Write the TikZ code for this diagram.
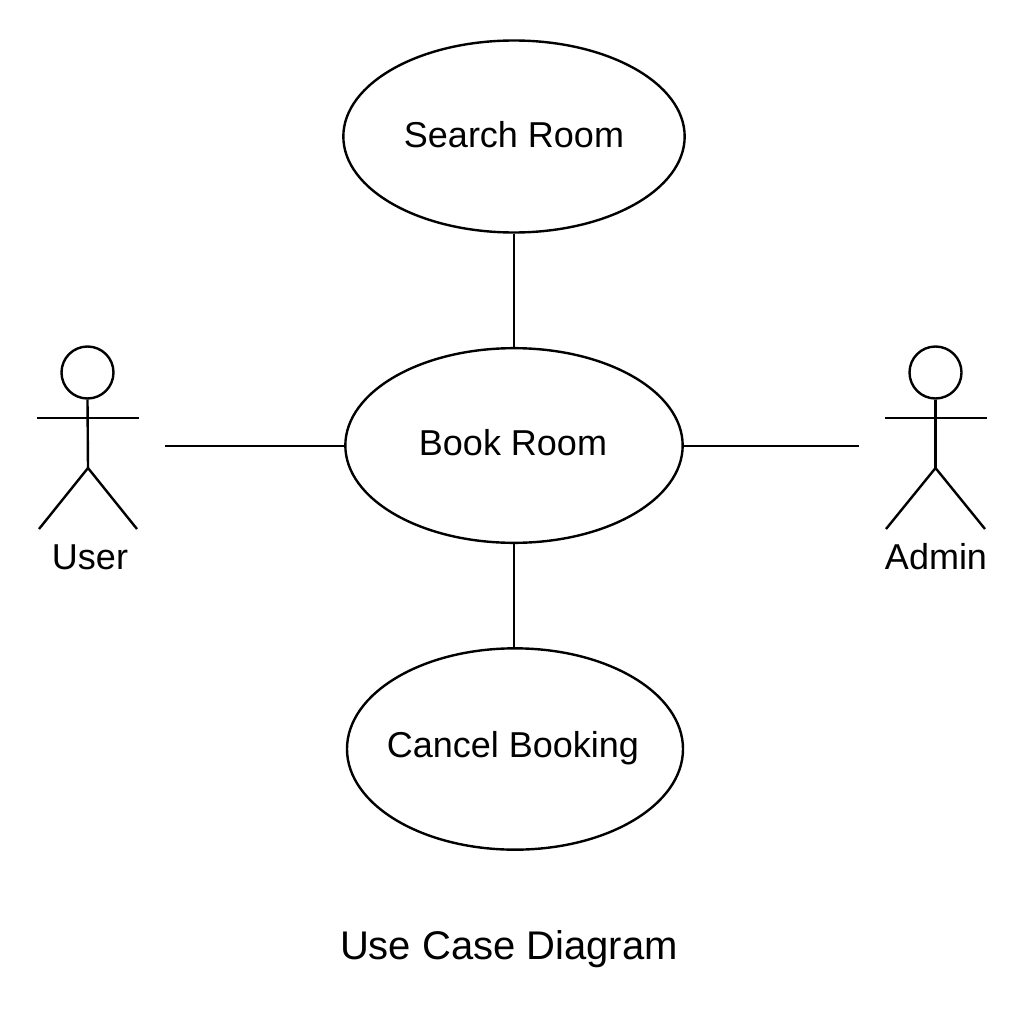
\documentclass[tikz,border=0pt]{standalone}
\usepackage{fontspec}
\setmainfont{Liberation Sans}
\usetikzlibrary{shapes.geometric}
\tikzset{
  px/.style={x=0.75pt,y=-0.75pt},
  usecase/.style={draw=black,ellipse,line width=1.8pt,inner sep=0pt,fill=white},
  link/.style={draw=black,line width=1.8pt},
  stick/.style={draw=black,line width=1.8pt},
  lab/.style={font=\fontsize{27pt}{29pt}\selectfont,text=black,inner sep=0pt},
}
\begin{document}
\begin{tikzpicture}[px]
\useasboundingbox (0,0) rectangle (1024,1024);
\fill[white] (0,0) rectangle (1024,1024);
\node[usecase,minimum width=256pt,minimum height=144pt] (search) at (514,136.5) {};
\node[usecase,minimum width=253pt,minimum height=146pt] (book) at (514,445.5) {};
\node[usecase,minimum width=252pt,minimum height=151pt] (cancel) at (515,749) {};
\node[lab] (t1) at (514,135) {Search Room};
\node[lab] (t2) at (513,443) {Book Room};
\node[lab] (t3) at (513,748) {Cancel Booking};
\node[lab] (user) at (90,557) {User};
\node[lab] (admin) at (936,557) {Admin};
\node[lab,font=\fontsize{30pt}{32pt}\selectfont] (title) at (509,949) {Use Case Diagram};
\coordinate (uend) at (165,446);
\coordinate (aend) at (859,446);
\draw[link] (search.south) -- (book.north);
\draw[link] (book.south) -- (book.south |- cancel.north);
\draw[link] (uend) -- (uend -| book.west);
\draw[link] (aend -| book.east) -- (aend);
% user actor
\node[draw=black,circle,line width=1.8pt,minimum size=39pt,inner sep=0pt] (uhead) at (87.5,372.5) {};
\coordinate (uhip) at (88,468);
\coordinate (ularm) at (37,418); \coordinate (urarm) at (139,418);
\coordinate (ulleg) at (39,529); \coordinate (urleg) at (137,529);
\draw[stick] (uhead.south) -- (uhip);
\draw[stick] (ularm) -- (urarm);
\draw[stick] (ulleg) -- (uhip) -- (urleg);
% admin actor
\node[draw=black,circle,line width=1.8pt,minimum size=39pt,inner sep=0pt] (ahead) at (935.5,372.5) {};
\coordinate (ahip) at (935.5,468);
\coordinate (alarm) at (885,418); \coordinate (ararm) at (987,418);
\coordinate (alleg) at (886,529); \coordinate (arleg) at (985,529);
\draw[stick] (ahead.south) -- (ahip);
\draw[stick] (alarm) -- (ararm);
\draw[stick] (alleg) -- (ahip) -- (arleg);
\end{tikzpicture}
\end{document}
